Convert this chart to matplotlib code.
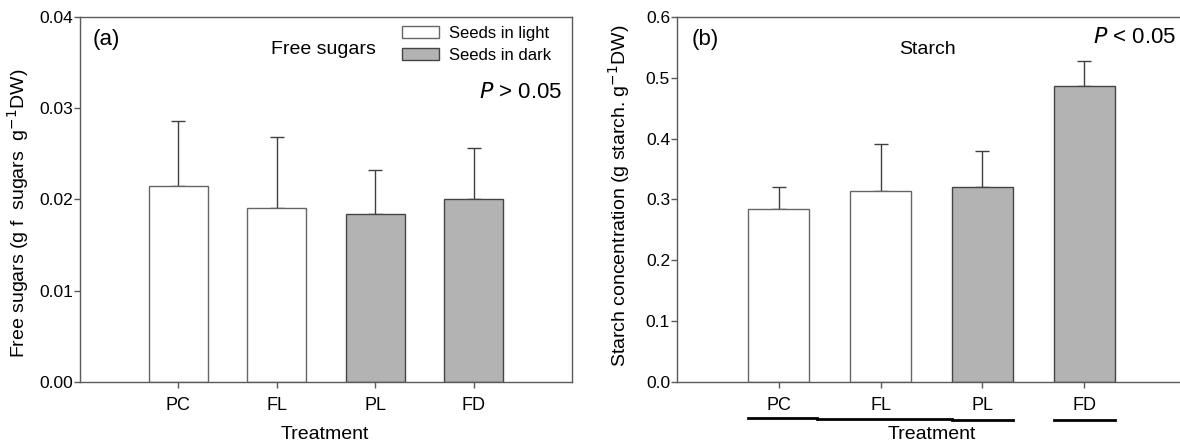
import matplotlib.pyplot as plt
import matplotlib.transforms as mtransforms
from matplotlib.patches import Patch

plt.rcParams['font.family'] = ['Liberation Sans', 'DejaVu Sans']

treatments = ['PC', 'FL', 'PL', 'FD']
sugar_mean = [0.0215, 0.0191, 0.0184, 0.0201]
sugar_err = [0.0071, 0.0078, 0.0048, 0.0055]
starch_mean = [0.285, 0.314, 0.321, 0.487]
starch_err = [0.035, 0.078, 0.059, 0.041]
seed_group = ['light', 'light', 'dark', 'dark']

fill = {'light': 'white', 'dark': '#b3b3b3'}
edge = {'light': '#666666', 'dark': '#444444'}
spine_col = '#5a5a5a'

fig = plt.figure(figsize=(11.8, 4.48), dpi=100)
W, H = 1180, 448
ax1 = fig.add_axes([80 / W, 1 - 382 / H, 492 / W, 365 / H])
ax2 = fig.add_axes([677 / W, 1 - 382 / H, 509 / W, 365 / H])


def draw_panel(ax, means, errs, ymax, yticks, fmt):
    x = list(range(len(treatments)))
    colors = [fill[g] for g in seed_group]
    edges = [edge[g] for g in seed_group]
    ax.bar(x, means, width=0.6, color=colors, edgecolor=edges, linewidth=1.0, zorder=2)
    ax.errorbar(x, means, yerr=[[0] * len(errs), errs], fmt='none', ecolor='#404040',
                elinewidth=1.0, capsize=5, capthick=1.0, zorder=1)
    ax.set_xlim(-1, 4)
    ax.set_ylim(0, ymax)
    ax.set_xticks(x)
    ax.set_xticklabels(treatments, fontsize=13)
    ax.set_yticks(yticks)
    ax.set_yticklabels([fmt.format(v) for v in yticks], fontsize=12.5)
    for s in ax.spines.values():
        s.set_color(spine_col)
        s.set_linewidth(1.0)
    ax.tick_params(direction='out', length=4, color=spine_col, width=1.0, pad=1)
    ax.tick_params(axis='x', pad=7)


draw_panel(ax1, sugar_mean, sugar_err, 0.04, [0.0, 0.01, 0.02, 0.03, 0.04], '{:.2f}')
draw_panel(ax2, starch_mean, starch_err, 0.6, [0.0, 0.1, 0.2, 0.3, 0.4, 0.5, 0.6], '{:.1f}')

ax1.set_ylabel('Free sugars (g f  sugars  g$^{-1}$DW)', fontsize=14)
ax2.set_ylabel('Starch concentration (g starch. g$^{-1}$DW)', fontsize=14)
ax1.yaxis.set_label_coords(-(80 - 31) / 492, (382 - 213) / 365)
ax2.yaxis.set_label_coords(-(677 - 632) / 509, (382 - 196) / 365)
ax1.set_xlabel('Treatment', fontsize=14)
ax2.set_xlabel('Treatment', fontsize=14)
ax1.xaxis.set_label_coords((325 - 80) / 492, (382 - 426) / 365)
ax2.xaxis.set_label_coords((932 - 677) / 509, (382 - 426) / 365)

# panel text
ax1.text((93 - 80) / 492, (382 - 40) / 365, '(a)', transform=ax1.transAxes, fontsize=16, va='center')
ax1.text((323 - 80) / 492, (382 - 50) / 365, 'Free sugars', transform=ax1.transAxes,
         fontsize=14, ha='center', va='center')
ax1.text((562 - 80) / 492, (382 - 93) / 365, '$P$ > 0.05', transform=ax1.transAxes,
         fontsize=16, ha='right', va='center')
ax2.text((692 - 677) / 509, (382 - 40) / 365, '(b)', transform=ax2.transAxes, fontsize=16, va='center')
ax2.text((927 - 677) / 509, (382 - 50) / 365, 'Starch', transform=ax2.transAxes,
         fontsize=14, ha='center', va='center')
ax2.text((1176 - 677) / 509, (382 - 38) / 365, '$P$ < 0.05', transform=ax2.transAxes,
         fontsize=16, ha='right', va='center')

handles = [Patch(facecolor=fill['light'], edgecolor=edge['light'], label='Seeds in light'),
           Patch(facecolor=fill['dark'], edgecolor=edge['dark'], label='Seeds in dark')]
ax1.legend(handles=handles, loc='upper left', bbox_to_anchor=((402 - 80) / 492, (382 - 26) / 365),
           frameon=False, fontsize=12, handlelength=2.2, handleheight=0.75, handletextpad=0.6,
           labelspacing=0.42, borderpad=0, borderaxespad=0)

# grouping lines under the treatment labels in (b)
trans = mtransforms.blended_transform_factory(ax2.transData, ax2.transAxes)
yline = (382 - 418) / 365
ax2.plot([-0.3, 0.38], [yline, yline], color='black', lw=2, transform=trans, clip_on=False)
ax2.plot([0.38, 1.7], [yline - 0.004, yline - 0.004], color='black', lw=2, transform=trans, clip_on=False)
ax2.plot([1.7, 2.3], [yline - 0.006, yline - 0.006], color='black', lw=2, transform=trans, clip_on=False)
ax2.plot([2.7, 3.3], [yline - 0.006, yline - 0.006], color='black', lw=2, transform=trans, clip_on=False)

fig.savefig('out.png', dpi=100)
